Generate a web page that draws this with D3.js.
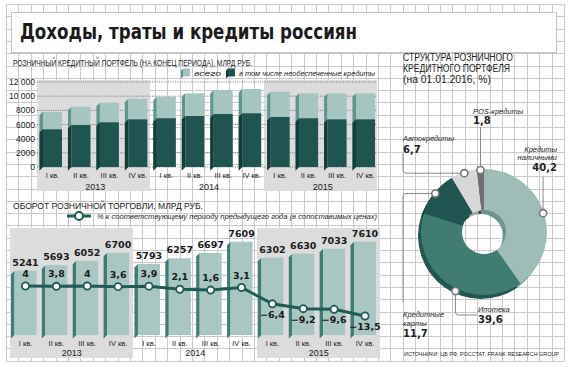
<!DOCTYPE html>
<html><head><meta charset="utf-8">
<script src="https://cdn.jsdelivr.net/npm/d3@7"></script>
<style>
body{margin:0;background:#fff;}
svg{display:block;}
.cond{font-family:"Liberation Sans Narrow","Liberation Sans",Arial,sans-serif;}
.bold{font-family:"DejaVu Sans","Verdana",sans-serif;font-weight:bold;}
</style></head>
<body>
<svg id="chart" width="570" height="367"></svg>
<script>
// ---------- DATA ----------
const quarterLabels = ["I кв.","II кв.","III кв.","IV кв.","I кв.","II кв.","III кв.","IV кв.","I кв.","II кв.","III кв.","IV кв."];
const yearLabels = ["2013","2014","2015"];
const portfolioTotal = [7800, 8510, 9080, 9640, 9930, 10400, 10870, 11010, 10630, 10400, 10400, 10400];
const portfolioUnsecured = [5320, 5930, 6310, 6730, 6880, 7200, 7480, 7580, 7060, 6880, 6730, 6730];
const portfolioTicks = [0, 2000, 4000, 6000, 8000, 10000, 12000];
const retailTurnover = [5241, 5693, 6052, 6700, 5793, 6257, 6697, 7609, 6302, 6630, 7033, 7610];
const turnoverChange = [4, 3.8, 4, 3.6, 3.9, 2.1, 1.6, 3.1, -6.4, -9.2, -9.6, -13.5];
const loanTypes = ["Кредиты наличными", "Ипотека", "Кредитные карты", "Автокредиты", "POS-кредиты"];
const loanShares = [40.2, 39.6, 11.7, 6.7, 1.8];

// ---------- SETUP ----------
const svg = d3.select("#chart");
const ru = d3.formatLocale({decimal: ",", thousands: " ", grouping: [3], currency: ["", ""]});
const fmtPct = v => ru.format(",.1~f")(v);
const fmtTick = v => v >= 10000 ? ru.format(",")(v) : String(v);
const dark = "#222";

function txt(g, x, y, s, o = {}) {
  const t = g.append("text").attr("x", x).attr("y", y).text(s)
    .attr("class", o.cls || "cond")
    .attr("font-size", o.size || 8)
    .attr("fill", o.fill || dark)
    .attr("text-anchor", o.anchor || "start");
  if (o.len) t.attr("textLength", o.len).attr("lengthAdjust", "spacingAndGlyphs");
  if (o.italic) t.attr("font-style", "italic");
  return t;
}

// ---------- GRID BACKGROUND ----------
const grid = svg.append("g").attr("stroke", "#c9c9c9").attr("stroke-width", 1);
const gx = d3.range(0, 46).map(k => Math.round(6 + 12.4 * k) + 0.5);
const gy = d3.range(0, 30).map(k => Math.round(4 + 12.3 * k) + 0.5);
gx.forEach(x => grid.append("line").attr("x1", x).attr("x2", x).attr("y1", gy[0]).attr("y2", gy[gy.length - 1]));
gy.forEach(y => grid.append("line").attr("y1", y).attr("y2", y).attr("x1", gx[0]).attr("x2", gx[gx.length - 1]));

// Title box
svg.append("rect").attr("x", 11.5).attr("y", 12.5).attr("width", 545).attr("height", 40)
  .attr("fill", "#fff").attr("stroke", "#c4c4c4");
txt(svg, 20, 38.5, "Доходы, траты и кредиты россиян", {cls: "bold", size: 21, len: 337, fill: "#1a1a1a"});

// ---------- 3D BAR HELPER ----------
function bar3d(g, xc, yT, yB, w, d, front, side) {
  const x0 = xc - w / 2;
  g.append("path").attr("d", `M${x0},${yT}L${x0 - d},${yT + d}L${x0 - d},${yB + d}L${x0},${yB}Z`).attr("fill", side);
  g.append("rect").attr("x", x0).attr("y", yT).attr("width", w).attr("height", Math.max(0, yB - yT)).attr("fill", front);
}

// ---------- TOP CHART: portfolio ----------
const topG = svg.append("g");
txt(topG, 13, 66, "РОЗНИЧНЫЙ КРЕДИТНЫЙ ПОРТФЕЛЬ (НА КОНЕЦ ПЕРИОДА), МЛРД РУБ.", {size: 9.5, len: 239});

topG.append("rect").attr("x", 37).attr("y", 80).attr("width", 113).attr("height", 111).attr("fill", "#dcdcdc");
topG.append("rect").attr("x", 264).attr("y", 80).attr("width", 113).attr("height", 111).attr("fill", "#dcdcdc");

const xTop = d3.scaleLinear().domain([0, 11]).range([52.5, 365.5]);
const yTop = d3.scaleLinear().domain([0, 12000]).range([167, 82]);

portfolioTicks.forEach(t => {
  topG.append("line").attr("x1", 37).attr("x2", 377).attr("y1", yTop(t)).attr("y2", yTop(t))
    .attr("stroke", "#555").attr("stroke-width", 0.8).attr("stroke-dasharray", "1,1.3");
  txt(topG, 35, yTop(t) + 3, fmtTick(t), {size: 8.5, anchor: "end"});
});

function swatch(g, x, y, front, side) {
  g.append("path").attr("d", `M${x + 2},${y}L${x},${y + 2}L${x},${y + 10}L${x + 2},${y + 8}Z`).attr("fill", side);
  g.append("rect").attr("x", x + 2).attr("y", y).attr("width", 7).attr("height", 8).attr("fill", front);
}
swatch(topG, 181, 68.5, "#a3c4bf", "#5f9690");
txt(topG, 194, 76, "всего", {size: 7.5, italic: true, len: 27});
swatch(topG, 226, 68.5, "#1f5550", "#123a36");
txt(topG, 239, 76, "в том числе необеспеченные кредиты", {size: 7.5, italic: true, len: 136});

portfolioTotal.forEach((v, i) => {
  const xc = xTop(i);
  bar3d(topG, xc, yTop(v), yTop(0), 19, 3.5, "#a5c5c0", "#5e968f");
  bar3d(topG, xc, yTop(portfolioUnsecured[i]), yTop(0), 19, 3.5, "#1f5550", "#143c38");
  txt(topG, xc, 178, quarterLabels[i], {size: 7.5, anchor: "middle"});
});
yearLabels.forEach((y, j) => {
  const xc = (xTop(j * 4) + xTop(j * 4 + 3)) / 2;
  txt(topG, xc, 189.5, y, {size: 9, anchor: "middle"});
});

// ---------- BOTTOM CHART: retail turnover ----------
const botG = svg.append("g");
txt(botG, 13, 208.5, "ОБОРОТ РОЗНИЧНОЙ ТОРГОВЛИ, МЛРД РУБ.", {size: 9.5, len: 190});
botG.append("line").attr("x1", 67).attr("x2", 91).attr("y1", 216).attr("y2", 216).attr("stroke", "#1f5a55").attr("stroke-width", 3);
botG.append("circle").attr("cx", 79).attr("cy", 216).attr("r", 4).attr("fill", "#fff").attr("stroke", "#1f5a55").attr("stroke-width", 2);
txt(botG, 97, 219, "% к соответствующему периоду предыдущего года (в сопоставимых ценах)", {size: 7.5, italic: true, len: 280});

botG.append("rect").attr("x", 10).attr("y", 228).attr("width", 123).attr("height", 130).attr("fill", "#dcdcdc");
botG.append("rect").attr("x", 257).attr("y", 228).attr("width", 123).attr("height", 130).attr("fill", "#dcdcdc");

const xBot = d3.scaleLinear().domain([0, 11]).range([25.5, 365]);
const yBot = d3.scaleLinear().domain([0, 8000]).range([335, 236.9]);
const yPct = d3.scaleLinear().domain([4, -13.5]).range([286, 316]);

retailTurnover.forEach((v, i) => {
  const xc = xBot(i);
  bar3d(botG, xc, yBot(v), yBot(0), 22, 3.5, "#a8c7c2", "#3d7d75");
  txt(botG, xc, yBot(v) - 5, String(v), {cls: "bold", size: 9.5, anchor: "middle", fill: "#1a1a1a"});
  txt(botG, xc, 346, quarterLabels[i], {size: 7.5, anchor: "middle"});
});
yearLabels.forEach((y, j) => {
  const xc = (xBot(j * 4) + xBot(j * 4 + 3)) / 2;
  txt(botG, xc, 356, y, {size: 9, anchor: "middle"});
});

const lineGen = d3.line().x((d, i) => xBot(i)).y(d => yPct(d));
botG.append("path").datum(turnoverChange).attr("d", lineGen).attr("fill", "none")
  .attr("stroke", "#1f5a55").attr("stroke-width", 3);
turnoverChange.forEach((v, i) => {
  botG.append("circle").attr("cx", xBot(i)).attr("cy", yPct(v)).attr("r", 3.6)
    .attr("fill", "#fff").attr("stroke", "#1f5a55").attr("stroke-width", 1.8);
  const ly = v >= 0 ? yPct(v) - 9 : yPct(v) + 14;
  txt(botG, xBot(i), ly, fmtPct(v), {cls: "bold", size: 9.5, anchor: "middle", fill: "#1a1a1a"});
});

// ---------- PIE ----------
const pieG = svg.append("g");
txt(pieG, 403, 61, "СТРУКТУРА РОЗНИЧНОГО", {size: 10, len: 110});
txt(pieG, 403, 72, "КРЕДИТНОГО ПОРТФЕЛЯ", {size: 10, len: 107});
txt(pieG, 403, 82.5, "(на 01.01.2016, %)", {size: 10, len: 88});

const pcx = 484, pcy = 232, rIn = 22, rOut = 63;
const pieColors = ["#9ebdb7", "#3f7d73", "#1f5651", "#d6d8d8", "#6d7170"];
const sideColors = ["#6e948e", "#22574f", "#133b37", "#a4a7a7", "#474a49"];
const arcs = d3.pie().sort(null).value(d => d)(loanShares);
const arcGen = d3.arc().innerRadius(rIn).outerRadius(rOut);
const shadow = pieG.append("g").attr("transform", `translate(${pcx - 3},${pcy + 4})`);
shadow.selectAll("path").data(arcs).join("path").attr("d", arcGen).attr("fill", (d, i) => sideColors[i]);
const ring = pieG.append("g").attr("transform", `translate(${pcx},${pcy})`);
ring.selectAll("path").data(arcs).join("path").attr("d", arcGen).attr("fill", (d, i) => pieColors[i]);

const pts = arcs.map((a, i) => {
  let ang = (a.startAngle + a.endAngle) / 2;
  if (i === 1) ang -= 0.15;
  const r = rOut - 1;
  return [pcx + r * Math.sin(ang), pcy - r * Math.cos(ang) + (i === 1 ? 4 : 0)];
});
const lead = pieG.append("g").attr("fill", "none").attr("stroke", "#8a8a8a").attr("stroke-width", 1);
lead.append("path").attr("d", `M${pts[0][0]},${pts[0][1]}V177`);
lead.append("path").attr("d", `M${pts[1][0]},${pts[1][1]}V312Q${pts[1][0]},315 ${pts[1][0] + 3},315H477`);
lead.append("path").attr("d", `M${pts[2][0]},${pts[2][1]}H406Q403,${pts[2][1]} 403,${pts[2][1] + 3}V302`);
lead.append("path").attr("d", `M${pts[3][0]},${pts[3][1]}H406Q403,${pts[3][1]} 403,${pts[3][1] - 3}V153`);
lead.append("path").attr("d", `M${pts[4][0]},${pts[4][1]}V127`);
pts.forEach(p => pieG.append("circle").attr("cx", p[0]).attr("cy", p[1]).attr("r", 3.6)
  .attr("fill", "#fff").attr("stroke", "#777").attr("stroke-width", 1.6));

txt(pieG, 557, 152, "Кредиты", {size: 7.5, anchor: "end", italic: true});
txt(pieG, 557, 160, "наличными", {size: 7.5, anchor: "end", italic: true});
txt(pieG, 557, 171, fmtPct(loanShares[0]), {cls: "bold", size: 10, anchor: "end"});
txt(pieG, 478, 312, "Ипотека", {size: 7.5, italic: true});
txt(pieG, 478, 323, fmtPct(loanShares[1]), {cls: "bold", size: 10});
txt(pieG, 403, 317, "Кредитные", {size: 7.5, italic: true});
txt(pieG, 403, 326, "карты", {size: 7.5, italic: true});
txt(pieG, 403, 337, fmtPct(loanShares[2]), {cls: "bold", size: 10});
txt(pieG, 403, 141, "Автокредиты", {size: 7.5, italic: true});
txt(pieG, 403, 153, fmtPct(loanShares[3]), {cls: "bold", size: 10});
txt(pieG, 473, 114, "POS-кредиты", {size: 7.5, italic: true});
txt(pieG, 473, 124, fmtPct(loanShares[4]), {cls: "bold", size: 10});

txt(svg, 404, 356, "ИСТОЧНИКИ: ЦБ РФ, РОССТАТ, FRANK RESEARCH GROUP", {size: 5.8, len: 155});
</script>
</body></html>
